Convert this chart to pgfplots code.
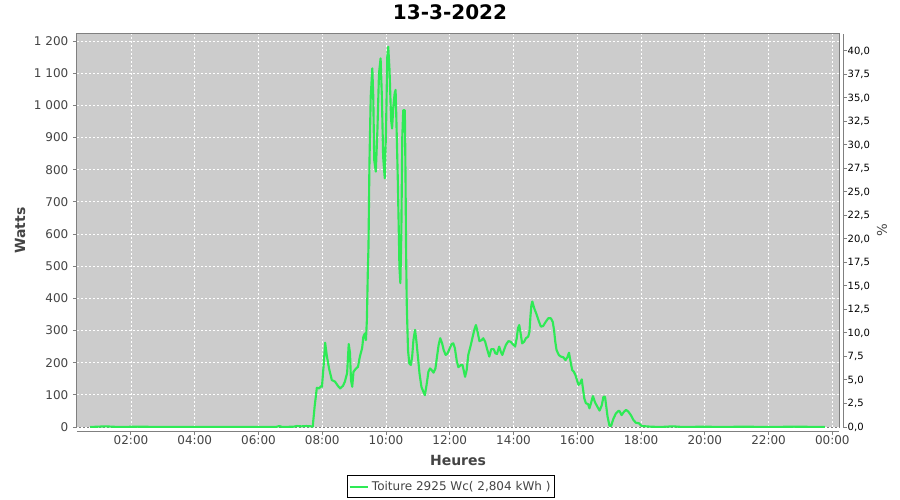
\documentclass[border=0pt]{standalone}
\usepackage{fontspec}
\setmainfont{DejaVu Sans}
\usepackage{pgfplots}
\pgfplotsset{compat=1.18}
\definecolor{plotgray}{HTML}{CCCCCC}
\definecolor{framegray}{HTML}{808080}
\definecolor{labgray}{HTML}{444444}
\definecolor{curve}{HTML}{2EEA55}

\begin{document}
\begin{tikzpicture}
% page = 900x500 px, 1px = 0.75pt, origin = lower left of plot area
\path[use as bounding box] (-57.75pt,-54.75pt) rectangle (617.25pt,320.25pt);
\begin{axis}[
  scale only axis, width=571.5pt, height=294.75pt,
  xmin=0.306, xmax=24.21, ymin=0, ymax=1221.8,
  axis background/.style={fill=plotgray, draw=framegray, line width=0.75pt},
  axis x line*=bottom, axis y line*=left,
  axis line style={framegray, line width=0.75pt},
  x axis line style={yshift=-3pt},
  tick align=outside, major tick length=3pt,
  tick style={framegray, line width=0.75pt},
  xtick style={yshift=-3pt},
  xtick={2,4,...,24},
  xticklabels={02:00,04:00,06:00,08:00,10:00,12:00,14:00,16:00,18:00,20:00,22:00,00:00},
  ytick={0,100,...,1200},
  yticklabels={0,100,200,300,400,500,600,700,800,900,{1 000},{1 100},{1 200}},
  tick label style={font=\fontsize{9}{10}\selectfont, text=labgray},
  grid=major,
  major grid style={white, line width=0.6pt, dash pattern=on 1.5pt off 1.5pt},
  xlabel={Heures}, ylabel={Watts},
  every axis x label/.style={at={(axis description cs:0.5,-0.084)}, anchor=center,
    font=\fontsize{10.5}{12}\selectfont\bfseries, text=labgray},
  every axis y label/.style={at={(axis description cs:-0.0748,0.5)}, rotate=90, anchor=center,
    font=\fontsize{10.5}{12}\selectfont\bfseries, text=labgray},
  legend style={at={(0.4906,-0.152)}, anchor=center, draw=black, line width=0.75pt,
    font=\fontsize{9}{10}\selectfont, text=labgray, inner xsep=1pt, inner ysep=2pt},
  legend image code/.code={\draw[#1] (0pt,0pt) -- (14pt,0pt);},
]
\addplot[curve, line width=1.6pt, line join=round] coordinates {
(0.72,0) (1.2,2) (1.6,0) (2.2,1) (3.0,0) (4.0,0) (5.0,0) (6.0,0) (6.55,0) (6.65,3) (6.75,0)
(7.1,1) (7.2,3) (7.35,2) (7.5,3) (7.65,2) (7.70,1)
(7.76,63) (7.83,122) (7.90,120) (7.96,127) (7.99,125) (8.05,200) (8.09,262) (8.14,224)
(8.21,183) (8.30,146) (8.40,141) (8.49,128) (8.56,120) (8.65,128) (8.71,141) (8.78,168)
(8.83,258) (8.87,230) (8.90,146) (8.94,125) (8.98,172) (9.06,182) (9.12,187) (9.18,219)
(9.25,245) (9.29,281) (9.34,291) (9.37,270) (9.40,333) (9.43,488) (9.45,560) (9.48,820)
(9.52,1027) (9.57,1115) (9.60,1027) (9.63,830) (9.68,794) (9.73,923) (9.78,1100) (9.83,1146)
(9.87,1027) (9.91,840) (9.96,773) (10.00,923) (10.04,1151) (10.07,1182) (10.11,1110)
(10.16,954) (10.19,928) (10.23,996) (10.27,1037) (10.30,1048) (10.32,975) (10.37,768)
(10.41,560) (10.42,498) (10.45,447) (10.48,600) (10.51,900) (10.54,985) (10.59,985)
(10.61,800) (10.63,541) (10.65,385) (10.69,239) (10.73,198) (10.78,193) (10.82,219)
(10.86,270) (10.91,302) (10.95,270) (11.00,219) (11.05,167) (11.11,125) (11.17,110)
(11.22,99) (11.28,136) (11.33,172) (11.38,182) (11.43,177) (11.49,169) (11.55,182)
(11.60,219) (11.65,255) (11.70,276) (11.76,260) (11.81,239) (11.87,224) (11.93,229)
(12.00,245) (12.06,258) (12.11,260) (12.16,245) (12.22,205) (12.27,186) (12.35,193)
(12.40,193) (12.48,156) (12.53,177) (12.58,224) (12.66,255) (12.72,281) (12.77,302)
(12.82,317) (12.86,302) (12.93,267) (13.00,270) (13.05,276) (13.11,265) (13.18,239)
(13.24,219) (13.30,242) (13.38,242) (13.43,229) (13.48,227) (13.55,250) (13.60,234)
(13.65,224) (13.70,239) (13.76,255) (13.84,267) (13.91,265) (13.98,257) (14.05,250)
(14.10,276) (14.14,307) (14.18,317) (14.23,286) (14.27,260) (14.33,265) (14.39,276)
(14.46,281) (14.50,296) (14.53,343) (14.56,379) (14.59,390) (14.65,369) (14.73,348)
(14.80,327) (14.86,312) (14.93,314) (15.01,327) (15.09,338) (15.17,338) (15.23,327)
(15.27,302) (15.31,265) (15.35,239) (15.42,224) (15.48,219) (15.56,217) (15.63,208)
(15.69,217) (15.74,231) (15.78,208) (15.84,177) (15.89,172) (15.94,162) (15.99,146)
(16.04,131) (16.09,136) (16.14,148) (16.17,125) (16.22,89) (16.27,74) (16.34,71)
(16.38,58) (16.43,74) (16.49,96) (16.56,76) (16.63,63) (16.70,51) (16.77,68) (16.82,94)
(16.87,94) (16.91,63) (16.95,32) (17.01,4) (17.06,3) (17.13,25) (17.21,42) (17.29,50)
(17.32,50) (17.39,37) (17.47,48) (17.53,53) (17.60,48) (17.68,37) (17.76,22) (17.84,13)
(17.93,12) (18.02,3) (18.3,1) (18.6,0) (19.0,2) (19.3,0) (20.0,1) (20.5,0) (21.2,1)
(22.0,0) (22.8,1) (23.77,0)
};
\addlegendentry{Toiture 2925 Wc( 2,804 kWh )}
\end{axis}
\begin{axis}[
  scale only axis, width=571.5pt, height=294.75pt,
  xmin=0.306, xmax=24.21, ymin=0, ymax=41.8,
  axis x line=none, axis y line*=right,
  y axis line style={xshift=3pt, framegray, line width=0.75pt},
  tick align=outside, major tick length=3pt,
  ytick style={xshift=3pt, framegray, line width=0.75pt},
  ytick={0,2.5,...,40},
  yticklabels={{0,0},{2,5},{5,0},{7,5},{10,0},{12,5},{15,0},{17,5},{20,0},{22,5},{25,0},{27,5},{30,0},{32,5},{35,0},{37,5},{40,0}},
  yticklabel style={font=\fontsize{7.5}{8}\selectfont, text=black},
  ylabel={\%},
  every axis y label/.style={at={(axis description cs:1.0564,0.5)}, rotate=90, anchor=center,
    font=\fontsize{10}{12}\selectfont, text=labgray},
]
\end{axis}
\node[anchor=base, font=\fontsize{15}{18}\selectfont\bfseries] at (279.75pt,305.25pt) {13-3-2022};
\end{tikzpicture}
\end{document}
